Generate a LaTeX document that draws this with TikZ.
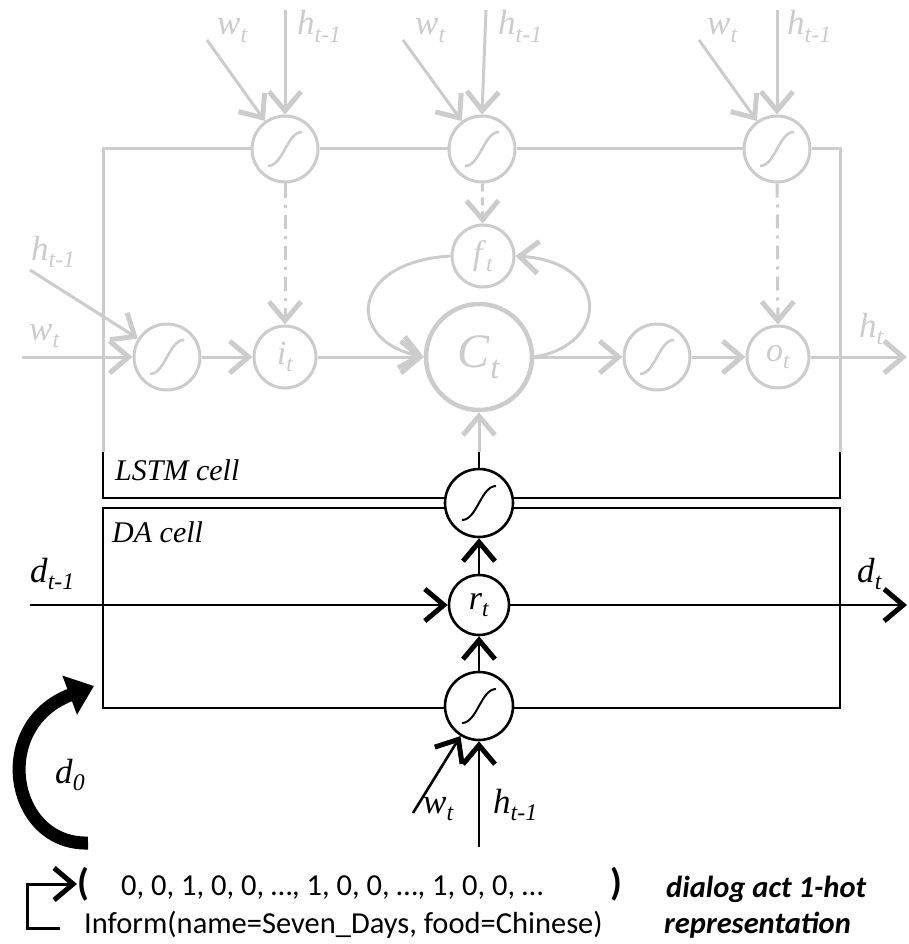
\documentclass[tikz,border=0pt]{standalone}
\usepackage{fontspec}
\setmainfont{Liberation Serif}
\newfontfamily\calib{Carlito}
\usetikzlibrary{arrows.meta}
\pgfdeclarelayer{bg}
\pgfsetlayers{bg,main}
\definecolor{lg}{RGB}{204,204,204}
\newcommand{\vv}[2]{\textit{#1}\raisebox{-0.22em}{\scalebox{0.68}{\textit{#2}}}}
\begin{document}
\begin{tikzpicture}[x=1pt,y=-1pt,
  gl/.style={draw=lg,line width=3pt},
  bl/.style={draw=black,line width=2.6pt},
  gtip/.style={-{Straight Barb[length=19pt,width=32pt,line width=5pt]}},
  btip/.style={-{Straight Barb[length=19pt,width=32pt,line width=5pt]}},
  gsig/.style={circle,draw=lg,fill=white,line width=3pt,minimum size=66pt,inner sep=0pt},
  gc/.style={circle,draw=lg,fill=white,line width=3pt,minimum size=62pt,inner sep=0pt,text=lg,font=\fontsize{34}{36}\selectfont},
  bsig/.style={circle,draw=black,fill=white,line width=2.6pt,minimum size=68pt,inner sep=0pt},
  bc/.style={circle,draw=black,fill=white,line width=2.6pt,minimum size=60pt,inner sep=0pt,font=\fontsize{34}{36}\selectfont},
  glab/.style={anchor=base west,inner sep=0pt,text=lg,font=\fontsize{35}{36}\selectfont},
  blab/.style={anchor=base west,inner sep=0pt,font=\fontsize{35}{36}\selectfont},
  clab/.style={anchor=base west,inner sep=0pt,font=\calib\fontsize{30.5}{31}\selectfont},
]
\useasboundingbox (0,0) rectangle (908,944);

% ---------- gray LSTM nodes ----------
\node[gsig] (g1) at (285,149) {};
\node[gsig] (g2) at (482,149) {};
\node[gsig] (g3) at (777,149) {};
\node[gsig] (sl) at (167,357) {};
\node[gc] (it) at (285,357) {\vv{i}{t}};
\node[gc,minimum size=106pt,line width=4.5pt,font=\fontsize{48}{50}\selectfont] (ct) at (479,357) {\vv{C}{t}};
\node[gc] (ft) at (483,256) {\vv{f}{t}};
\node[gsig] (sr) at (657,357) {};
\node[gc] (ot) at (778,357) {\vv{o}{t}};

% ---------- black DA nodes ----------
\node[bsig] (su) at (479,503) {};
\node[bc] (rt) at (479,605) {\vv{r}{t}};
\node[bsig] (sd) at (479,706) {};

% sigmoid curves
\foreach \n in {g1,g2,g3,sl,sr}
  \draw[draw=lg,line width=2.6pt] ([shift={(-17,17)}]\n.center) .. controls +(15,0) and +(-15,0) .. ([shift={(17,-17)}]\n.center);
\foreach \n in {su,sd}
  \draw[draw=black,line width=2pt] ([shift={(-17,17)}]\n.center) .. controls +(15,0) and +(-15,0) .. ([shift={(17,-17)}]\n.center);

% coordinates
\coordinate (lstmtl) at (103,452);
\coordinate (lstmtr) at (840,452);
\coordinate (cj) at (479,452);
\coordinate (wt1) at (207,40);  \coordinate (ht1) at (285,10);
\coordinate (wt2) at (403,40);  \coordinate (ht2) at (486,10);
\coordinate (wt3) at (699,40);  \coordinate (ht3) at (777,10);
\coordinate (wm) at (22,357);   \coordinate (hm) at (30,270);
\coordinate (hout) at (907,357);
\coordinate (din) at (30,605);  \coordinate (dout) at (907,605);
\coordinate (wl) at (413,813);  \coordinate (hl) at (479,847);
\coordinate (d0s) at (88,843);  \coordinate (d0e) at (94,686);
\coordinate (ea) at (60,928);

\begin{pgfonlayer}{bg}
% gray frame
\draw[gl] (lstmtl) |- (g1.west);
\draw[gl] (g1.east) -- (g2.west);
\draw[gl] (g2.east) -- (g3.west);
\draw[gl] (g3.east) -| (lstmtr);
% black frames
\draw[bl] (lstmtl) -- (103,498) -- (840,498) -- (lstmtr);
\draw[bl] (103,508) rectangle (840,708);
\draw[bl,btip] (din) -- (rt.west);
\draw[bl,btip] (rt.east) -- (dout);
\end{pgfonlayer}

% gray connectors
\draw[gl,gtip] (ht1) -- (g1.north);
\draw[gl,gtip] (wt1) -- (g1);
\draw[gl,gtip] (ht2) -- (g2.north);
\draw[gl,gtip] (wt2) -- (g2);
\draw[gl,gtip] (ht3) -- (g3.north);
\draw[gl,gtip] (wt3) -- (g3);
\draw[gl,gtip] (wm) -- (sl.west);
\draw[gl,gtip] (hm) -- (sl);
\draw[gl,gtip] (sl) -- (it);
\draw[gl,gtip] (it) -- (ct);
\draw[gl,gtip] (ct) -- (sr);
\draw[gl,gtip] (sr) -- (ot);
\draw[gl,gtip] (ot.east) -- (hout);
\draw[gl,gtip,dash pattern=on 14pt off 7pt on 3pt off 7pt] (g1) -- (it);
\draw[gl,gtip,dash pattern=on 14pt off 7pt on 3pt off 7pt] (g3) -- (ot);
\draw[gl,gtip,dash pattern=on 8pt off 6pt] (g2) -- (ft);
\draw[gl,gtip] (ft.west) .. controls (350,262) and (345,340) .. (ct.west);
\draw[gl,gtip] (ct.east) .. controls (610,345) and (610,262) .. (ft.east);
\draw[gl,gtip] (cj) -- (ct.south);

% black connectors
\draw[bl] (su.north) -- (cj);
\draw[bl,btip] (rt) -- (su);
\draw[bl,btip] (sd) -- (rt);
\draw[bl,btip] (wl) -- (sd);
\draw[bl,btip] (hl) -- (sd.south);

% d0 thick arrow
\draw[line width=13pt,-{Triangle[length=26pt,width=40pt]}] (d0s) .. controls (10,845) and (-10,725) .. (d0e);

% labels gray
\node[glab] (lw1) at (217,35) {\vv{w}{t}};
\node[glab] (lh1) at (297,35) {\vv{h}{t-1}};
\node[glab] (lw2) at (415,35) {\vv{w}{t}};
\node[glab] (lh2) at (498,35) {\vv{h}{t-1}};
\node[glab] (lw3) at (707,35) {\vv{w}{t}};
\node[glab] (lh3) at (787,35) {\vv{h}{t-1}};
\node[glab] (lhm) at (31,260) {\vv{h}{t-1}};
\node[glab] (lwm) at (29,340) {\vv{w}{t}};
\node[glab] (lho) at (859,337) {\vv{h}{t}};

% labels black
\node[anchor=base west,inner sep=0pt,font=\fontsize{30}{32}\selectfont\itshape] (lstm) at (115,480) {LSTM cell};
\node[anchor=base west,inner sep=0pt,font=\fontsize{30}{32}\selectfont\itshape] (dac) at (112,542) {DA cell};
\node[blab] (ldi) at (30,582) {\vv{d}{t-1}};
\node[blab] (ldo) at (857,582) {\vv{d}{t}};
\node[blab] (ld0) at (55,783) {\vv{d}{0}};
\node[blab] (lwl) at (423,813) {\vv{w}{t}};
\node[blab] (lhl) at (493,813) {\vv{h}{t-1}};

% bottom texts
\node[anchor=west,inner sep=0pt,font=\calib\bfseries\fontsize{38}{38}\selectfont] (lp) at (77,884) {(};
\node[anchor=west,inner sep=0pt,font=\calib\bfseries\fontsize{38}{38}\selectfont] (rp) at (610,884) {)};
\draw[line width=3pt,btip] (ea) -- (27,928) -- (27,884) -- (lp.west);
\node[clab] (vec) at (121,895) {0, 0, 1, 0, 0, …, 1, 0, 0, …, 1, 0, 0, …};
\node[clab] (inf) at (84,933) {Inform(name=Seven\_Days, food=Chinese)};
\node[clab,font=\calib\bfseries\itshape\fontsize{30.5}{31}\selectfont] (da1) at (666,897) {dialog act 1-hot};
\node[clab,font=\calib\bfseries\itshape\fontsize{30.5}{31}\selectfont] (da2) at (664,933) {representation};
\end{tikzpicture}
\end{document}
